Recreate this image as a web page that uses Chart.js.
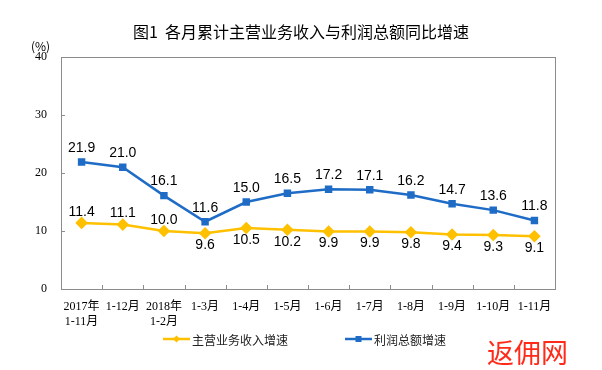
<!DOCTYPE html>
<html>
<head>
<meta charset="utf-8">
<script src="https://cdn.jsdelivr.net/npm/chart.js@4.4.0/dist/chart.umd.min.js"></script>
<style>
  html,body{margin:0;padding:0;background:#fff;}
  #wrap{position:relative;width:602px;height:370px;overflow:hidden;}
  #c{position:absolute;left:0;top:0;}
  .t{position:absolute;white-space:nowrap;font-family:"Noto Sans CJK SC","DejaVu Sans",sans-serif;color:#000;}
</style>
</head>
<body>
<div id="wrap">
  <canvas id="c" width="602" height="370"></canvas>
  <div class="t" id="title" style="left:0;width:602px;text-align:center;top:19px;font-size:16px;">图1&nbsp; 各月累计主营业务收入与利润总额同比增速</div>
  <div class="t" style="left:31px;top:37px;font-size:12px;">(%)</div>
  <div class="t" style="left:487px;top:332px;font-size:27px;color:#ff2a1a;">返佣网</div>
</div>
<script>
const categories = [['2017年','1-11月'],'1-12月',['2018年','1-2月'],'1-3月','1-4月','1-5月','1-6月','1-7月','1-8月','1-9月','1-10月','1-11月'];
const revenueGrowth = [11.4, 11.1, 10.0, 9.6, 10.5, 10.2, 9.9, 9.9, 9.8, 9.4, 9.3, 9.1];
const profitGrowth = [21.9, 21.0, 16.1, 11.6, 15.0, 16.5, 17.2, 17.1, 16.2, 14.7, 13.6, 11.8];
const revenueLabelBelow = [false, false, false, true, true, true, true, true, true, true, true, true];
const yTicks = [0, 10, 20, 30, 40];
const seriesNames = ['主营业务收入增速', '利润总额增速'];

const YELLOW = '#FFC000';
const BLUE = '#1F6CC6';
const AXIS = '#8c8c8c';

const decorPlugin = {
  id: 'decor',
  beforeDatasetsDraw(chart) {
    const ctx = chart.ctx, a = chart.chartArea;
    const xs = chart.scales.x, ys = chart.scales.y;
    ctx.save();
    ctx.strokeStyle = AXIS;
    ctx.lineWidth = 1;
    ctx.strokeRect(Math.round(a.left) + 0.5, Math.round(a.top) + 0.5, Math.round(a.right - a.left), Math.round(a.bottom - a.top));
    ctx.beginPath();
    for (let i = 1; i < categories.length; i++) {
      const x = Math.round(xs.getPixelForValue(i - 0.5)) + 0.5;
      ctx.moveTo(x, a.bottom); ctx.lineTo(x, a.bottom - 4);
    }
    yTicks.forEach(v => {
      const y = Math.round(ys.getPixelForValue(v)) + 0.5;
      ctx.moveTo(a.left, y); ctx.lineTo(a.left + 4, y);
    });
    ctx.stroke();
    ctx.restore();
  },
  afterDatasetsDraw(chart) {
    const ctx = chart.ctx;
    ctx.save();
    ctx.font = '14px "Liberation Sans", Arial, sans-serif';
    ctx.fillStyle = '#000';
    ctx.textAlign = 'center';
    ctx.textBaseline = 'middle';
    chart.data.datasets.forEach((ds, di) => {
      const meta = chart.getDatasetMeta(di);
      meta.data.forEach((pt, i) => {
        const v = ds.data[i];
        let dy;
        if (di === 1) dy = -14;
        else dy = revenueLabelBelow[i] ? 12 : -11;
        ctx.fillText(v.toFixed(1), pt.x, pt.y + dy);
      });
    });
    // legend
    const items = [
      {x: 163, color: YELLOW, shape: 'diamond', text: seriesNames[0]},
      {x: 345, color: BLUE, shape: 'square', text: seriesNames[1]}
    ];
    const ly = 339;
    ctx.font = '12px "Noto Sans CJK SC", sans-serif';
    ctx.textAlign = 'left';
    items.forEach(it => {
      ctx.strokeStyle = it.color; ctx.fillStyle = it.color; ctx.lineWidth = 2.5;
      ctx.beginPath(); ctx.moveTo(it.x, ly); ctx.lineTo(it.x + 27, ly); ctx.stroke();
      const cx = it.x + 13.5;
      ctx.beginPath();
      if (it.shape === 'diamond') { ctx.moveTo(cx, ly - 3.5); ctx.lineTo(cx + 3.5, ly); ctx.lineTo(cx, ly + 3.5); ctx.lineTo(cx - 3.5, ly); ctx.closePath(); }
      else { ctx.rect(cx - 3, ly - 3, 6, 6); }
      ctx.fill();
      ctx.fillStyle = '#222';
      ctx.fillText(it.text, it.x + 29, ly + 1);
    });
    ctx.restore();
  }
};

new Chart(document.getElementById('c'), {
  type: 'line',
  data: {
    labels: categories,
    datasets: [
      {label: seriesNames[0], data: revenueGrowth, borderColor: YELLOW, backgroundColor: YELLOW, borderWidth: 2.5,
       pointStyle: 'rectRot', pointRadius: 4.5, pointHoverRadius: 4.5, tension: 0},
      {label: seriesNames[1], data: profitGrowth, borderColor: BLUE, backgroundColor: BLUE, borderWidth: 2.5,
       pointStyle: 'rect', pointRadius: 3.5, pointHoverRadius: 3.5, tension: 0}
    ]
  },
  options: {
    responsive: false,
    animation: false,
    events: [],
    layout: {padding: {left: 0, right: 47, top: 57, bottom: 41}},
    plugins: {legend: {display: false}, title: {display: false}, tooltip: {enabled: false}},
    scales: {
      x: {
        type: 'category',
        offset: true,
        grid: {display: false, drawTicks: false},
        border: {display: true, color: AXIS, width: 1},
        ticks: {color: '#000', padding: 11, maxRotation: 0, autoSkip: false,
                font: {family: '"Liberation Serif", "Noto Sans CJK SC", serif', size: 12, lineHeight: 1.2}},
        afterFit(s) { s.height = 40; }
      },
      y: {
        min: 0, max: 40,
        afterBuildTicks(s) { s.ticks = yTicks.map(v => ({value: v})); },
        grid: {display: false, drawTicks: false},
        border: {display: true, color: AXIS, width: 1},
        ticks: {color: '#000', padding: 14, font: {family: '"Liberation Serif", serif', size: 12}},
        afterFit(s) { s.width = 61; }
      }
    }
  },
  plugins: [decorPlugin]
});
</script>
</body>
</html>
